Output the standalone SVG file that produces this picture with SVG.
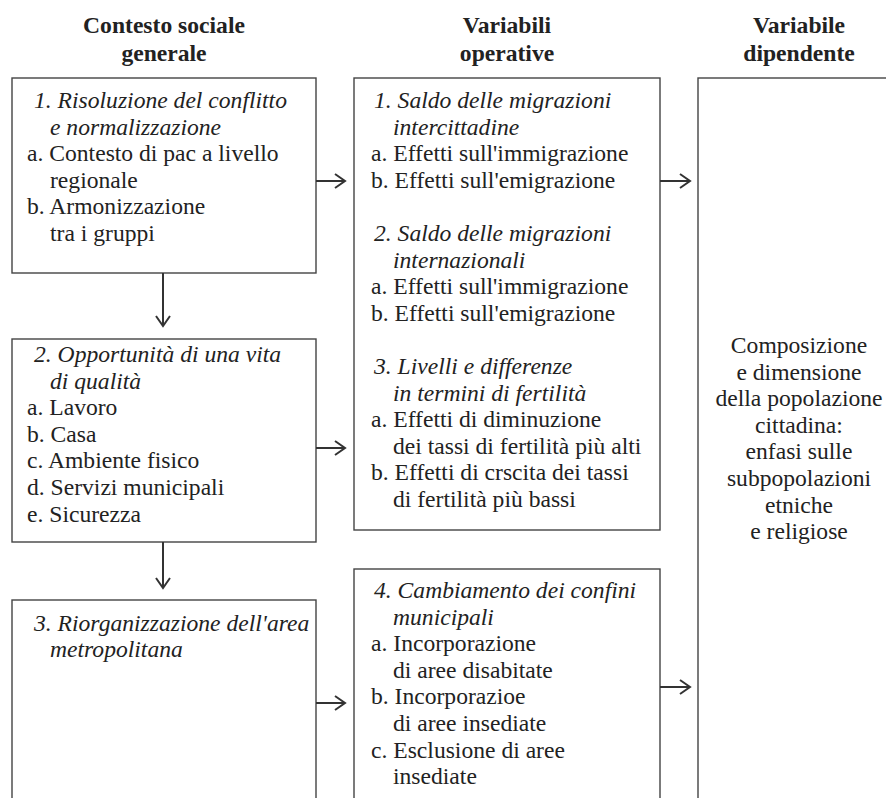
<svg xmlns="http://www.w3.org/2000/svg" width="886" height="798" viewBox="0 0 886 798" font-family="Liberation Serif, Times New Roman, Times, serif">
<style>
text{font-size:23.6px;fill:#222}
.h{font-weight:bold;text-anchor:middle}
.i{font-style:italic}
.c{text-anchor:middle}
.box{fill:#fff;stroke:#444;stroke-width:1.4}
.con line,.con polyline{fill:none;stroke:#333;stroke-width:2}
</style>
<rect width="886" height="798" fill="#fff"/>
<g id="headers">
<text class="h" x="164" y="33">Contesto sociale</text>
<text class="h" x="164" y="61">generale</text>
<text class="h" x="507" y="33">Variabili</text>
<text class="h" x="507" y="61">operative</text>
<text class="h" x="799" y="33">Variabile</text>
<text class="h" x="799" y="61">dipendente</text>
</g>
<g id="box1">
<rect class="box" x="12" y="78" width="304" height="195"/>
<text class="i" x="34" y="108">1. Risoluzione del conflitto</text>
<text class="i" x="50" y="134.6">e normalizzazione</text>
<text x="27" y="161.2">a. Contesto di pac a livello</text>
<text x="50" y="187.8">regionale</text>
<text x="27" y="214.4">b. Armonizzazione</text>
<text x="50" y="241">tra i gruppi</text>
</g>
<g id="box2">
<rect class="box" x="12" y="339" width="304" height="203"/>
<text class="i" x="34" y="362">2. Opportunità di una vita</text>
<text class="i" x="50" y="388.6">di qualità</text>
<text x="27" y="415.2">a. Lavoro</text>
<text x="27" y="441.8">b. Casa</text>
<text x="27" y="468.4">c. Ambiente fisico</text>
<text x="27" y="495">d. Servizi municipali</text>
<text x="27" y="521.6">e. Sicurezza</text>
</g>
<g id="box3">
<rect class="box" x="12" y="600" width="304" height="220"/>
<text class="i" x="34" y="630.5">3. Riorganizzazione dell'area</text>
<text class="i" x="50" y="657">metropolitana</text>
</g>
<g id="boxA">
<rect class="box" x="354" y="78" width="306" height="452"/>
<text class="i" x="374" y="108">1. Saldo delle migrazioni</text>
<text class="i" x="393" y="134.6">intercittadine</text>
<text x="371" y="161.2">a. Effetti sull'immigrazione</text>
<text x="371" y="187.8">b. Effetti sull'emigrazione</text>
<text class="i" x="374" y="241">2. Saldo delle migrazioni</text>
<text class="i" x="393" y="267.6">internazionali</text>
<text x="371" y="294.2">a. Effetti sull'immigrazione</text>
<text x="371" y="320.8">b. Effetti sull'emigrazione</text>
<text class="i" x="374" y="374">3. Livelli e differenze</text>
<text class="i" x="393" y="400.6">in termini di fertilità</text>
<text x="371" y="427.2">a. Effetti di diminuzione</text>
<text x="393" y="453.8">dei tassi di fertilità più alti</text>
<text x="371" y="480.4">b. Effetti di crscita dei tassi</text>
<text x="393" y="507">di fertilità più bassi</text>
</g>
<g id="boxB">
<rect class="box" x="354" y="569" width="306" height="250"/>
<text class="i" x="374" y="598">4. Cambiamento dei confini</text>
<text class="i" x="393" y="624.6">municipali</text>
<text x="371" y="651.2">a. Incorporazione</text>
<text x="393" y="677.8">di aree disabitate</text>
<text x="371" y="704.4">b. Incorporazioe</text>
<text x="393" y="731">di aree insediate</text>
<text x="371" y="757.6">c. Esclusione di aree</text>
<text x="393" y="784.2">insediate</text>
</g>
<g id="boxC">
<rect class="box" x="698" y="78" width="210" height="740"/>
<text class="c" x="799" y="353">Composizione</text>
<text class="c" x="799" y="379.6">e dimensione</text>
<text class="c" x="799" y="406.2">della popolazione</text>
<text class="c" x="799" y="432.8">cittadina:</text>
<text class="c" x="799" y="459.4">enfasi sulle</text>
<text class="c" x="799" y="486">subpopolazioni</text>
<text class="c" x="799" y="512.6">etniche</text>
<text class="c" x="799" y="539.2">e religiose</text>
</g>
<g id="connectors" class="con">
<line x1="163" y1="273" x2="163" y2="326"/>
<polyline points="156,316 163,326 170,316"/>
<line x1="163" y1="542" x2="163" y2="588"/>
<polyline points="156,578 163,588 170,578"/>
<line x1="316" y1="181" x2="345" y2="181"/>
<polyline points="335,174 345,181 335,188"/>
<line x1="316" y1="448" x2="345" y2="448"/>
<polyline points="335,441 345,448 335,455"/>
<line x1="316" y1="703" x2="345" y2="703"/>
<polyline points="335,696 345,703 335,710"/>
<line x1="660" y1="181" x2="690" y2="181"/>
<polyline points="680,174 690,181 680,188"/>
<line x1="660" y1="687" x2="690" y2="687"/>
<polyline points="680,680 690,687 680,694"/>
</g>
</svg>
